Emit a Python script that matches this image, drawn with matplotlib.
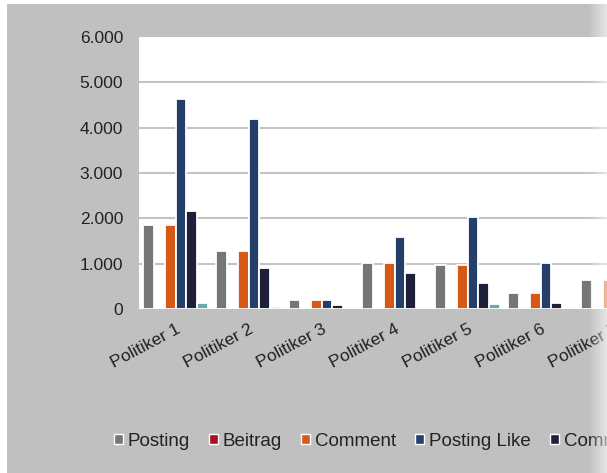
import numpy as np
import matplotlib
matplotlib.use('Agg')
import matplotlib.pyplot as plt
from matplotlib.patches import Patch, Rectangle
from matplotlib.ticker import FuncFormatter

plt.rcParams['font.family'] = ['Liberation Sans', 'DejaVu Sans']

politiker = ['Politiker 1', 'Politiker 2', 'Politiker 3', 'Politiker 4',
             'Politiker 5', 'Politiker 6', 'Politiker 7']
series_names = ['Posting', 'Beitrag', 'Comment', 'Posting Like',
                'Comment Like', 'Beitrag Like']
posting = [1860, 1290, 190, 1020, 975, 360, 630]
beitrag = [0, 0, 0, 0, 0, 0, 0]
comment = [1860, 1290, 190, 1020, 975, 360, 630]
posting_like = [4640, 4200, 190, 1590, 2030, 1020, 1400]
comment_like = [2160, 900, 90, 800, 580, 130, 300]
beitrag_like = [140, 45, 0, 0, 100, 0, 0]
colors = ['#767676', '#a3121e', '#d65a16', '#243f69', '#1e1f38', '#6aa8a9']

values = [posting, beitrag, comment, posting_like, comment_like, beitrag_like]

W, H = 607, 473
fig = plt.figure(figsize=(W / 100, H / 100), dpi=100)
fig.patch.set_facecolor('white')
# grey chart area (thin white border on top and left)
fig.patches.append(Rectangle((7 / W, 0), 1, 1 - 4 / H, transform=fig.transFigure,
                             facecolor='#c0c0c0', edgecolor='none', zorder=-5))

left, top, bottom = 139, 37, 309
ax = fig.add_axes([left / W, 1 - bottom / H, 7 * 73 / W, (bottom - top) / H])
ax.set_facecolor('white')

x = np.arange(len(politiker))
step = 0.1466
for i, (name, vals) in enumerate(zip(series_names, values)):
    vals = np.array(vals, dtype=float)
    ax.bar(x + (i - 2.5) * step, vals, width=step, color=colors[i],
           edgecolor=['white' if v > 0 else 'none' for v in vals],
           linewidth=1.3, label=name, zorder=3)

ax.set_xlim(-0.5, len(politiker) - 0.5)
ax.set_ylim(0, 6000)
ax.set_yticks(np.arange(0, 6001, 1000))
ax.yaxis.set_major_formatter(FuncFormatter(lambda v, p: f'{int(v):,}'.replace(',', '.')))
for g in range(1000, 6000, 1000):
    ax.axhline(g, color='#c4c4c4', linewidth=1.5, zorder=1)
for s in ax.spines.values():
    s.set_visible(False)

ax.tick_params(axis='y', length=0, pad=11.5, labelsize=12.5, labelcolor='#222222')
ax.tick_params(axis='x', length=0, pad=9, labelsize=12.5, labelcolor='#222222')
ax.set_xticks(x)
ax.set_xticklabels(politiker, rotation=28, ha='right', va='top', rotation_mode='anchor')

handles = [Patch(facecolor=c, edgecolor='white', linewidth=1) for c in colors]
fig.legend(handles, series_names, loc='center left', ncol=6,
           bbox_to_anchor=(97 / W, 1 - 441 / H), frameon=False,
           fontsize=13.5, handlelength=0.5, handleheight=0.5,
           handletextpad=0.25, columnspacing=1.0, labelcolor='#222222')

# light fade at the right edge
fade = fig.add_axes([588 / W, 0, 19 / W, 1], zorder=10)
grad = np.zeros((2, 50, 4))
grad[..., :3] = 1.0
grad[..., 3] = np.linspace(0, 0.6, 50)
fade.imshow(grad, aspect='auto', extent=(0, 1, 0, 1))
fade.axis('off')

fig.savefig('out.png', dpi=100, facecolor=fig.get_facecolor())
